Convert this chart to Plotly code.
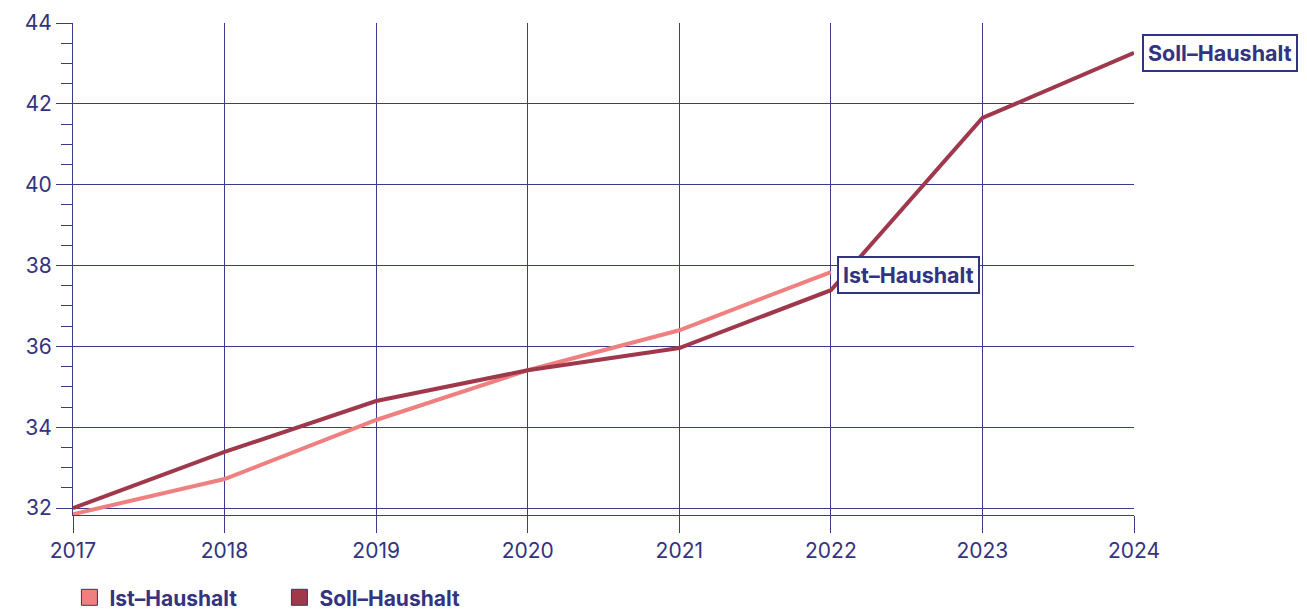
import plotly.graph_objects as go

years = [2017, 2018, 2019, 2020, 2021, 2022, 2023, 2024]
ist_years = [2017, 2018, 2019, 2020, 2021, 2022]
ist_values = [31.85, 32.72, 34.18, 35.41, 36.40, 37.84]
soll_values = [32.0, 33.39, 34.65, 35.41, 35.96, 37.39, 41.65, 43.26]
y_ticks = [32, 34, 36, 38, 40, 42, 44]

NAVY = "#33337f"
GRID = "#3b3b8a"
IST = "#f08080"
SOLL = "#a0384c"
FONT = "Inter"

fig = go.Figure()
fig.add_trace(go.Scatter(x=ist_years, y=ist_values, mode="lines",
                         line=dict(color=IST, width=4), showlegend=False, hoverinfo="skip"))
fig.add_trace(go.Scatter(x=years, y=soll_values, mode="lines",
                         line=dict(color=SOLL, width=4), showlegend=False, hoverinfo="skip"))
# legend entries as squares
fig.add_trace(go.Scatter(x=[None], y=[None], mode="markers", name="Ist–Haushalt",
                         marker=dict(symbol="square", size=19, color=IST, line=dict(color=NAVY, width=1))))
fig.add_trace(go.Scatter(x=[None], y=[None], mode="markers", name="Soll–Haushalt",
                         marker=dict(symbol="square", size=19, color=SOLL, line=dict(color=NAVY, width=1))))

fig.add_annotation(x=ist_years[-1], y=ist_values[-1], xref="x", yref="y",
                   text="<b>Ist–Haushalt</b>", showarrow=False, xanchor="left", yanchor="middle",
                   xshift=6, yshift=-2.5, font=dict(family=FONT, size=21.5, color=NAVY),
                   bordercolor=NAVY, borderwidth=2, borderpad=4, bgcolor="white")
fig.add_annotation(x=years[-1], y=soll_values[-1], xref="x", yref="y",
                   text="<b>Soll–Haushalt</b>", showarrow=False, xanchor="left", yanchor="middle",
                   xshift=8, yshift=0, font=dict(family=FONT, size=21.5, color=NAVY),
                   bordercolor=NAVY, borderwidth=2, borderpad=4, bgcolor="white")

fig.update_xaxes(range=[2017, 2024], tickvals=years, ticktext=[str(y) for y in years],
                 showgrid=True, gridcolor=GRID, gridwidth=1,
                 ticks="outside", ticklen=17, tickcolor=GRID, tickwidth=1,
                 showline=True, linecolor=GRID, linewidth=1, mirror=False,
                 tickfont=dict(family=FONT, size=21, color=NAVY), zeroline=False,
                 automargin=False)
fig.update_yaxes(range=[31.83, 44], tickvals=y_ticks, ticktext=[str(v) for v in y_ticks],
                 showgrid=True, gridcolor=GRID, gridwidth=1,
                 ticks="outside", ticklen=16, tickcolor=GRID, tickwidth=1,
                 minor=dict(dtick=0.5, ticks="outside", ticklen=11, tickcolor=GRID, showgrid=False),
                 showline=True, linecolor=GRID, linewidth=1,
                 tickfont=dict(family=FONT, size=21, color=NAVY), zeroline=False,
                 automargin=False)

fig.update_layout(
    width=1307, height=612,
    margin=dict(l=65, r=181, t=15, b=105, autoexpand=False),
    plot_bgcolor="white", paper_bgcolor="white",
    hovermode=False,
    legend=dict(orientation="h", x=0.047, xref="container", xanchor="left",
                y=0.07, yref="container", yanchor="top",
                font=dict(family=FONT, size=21, color=NAVY, weight="bold"),
                itemwidth=30, tracegroupgap=0, entrywidth=165, entrywidthmode="pixels"),
)

fig.write_html("out.html")
